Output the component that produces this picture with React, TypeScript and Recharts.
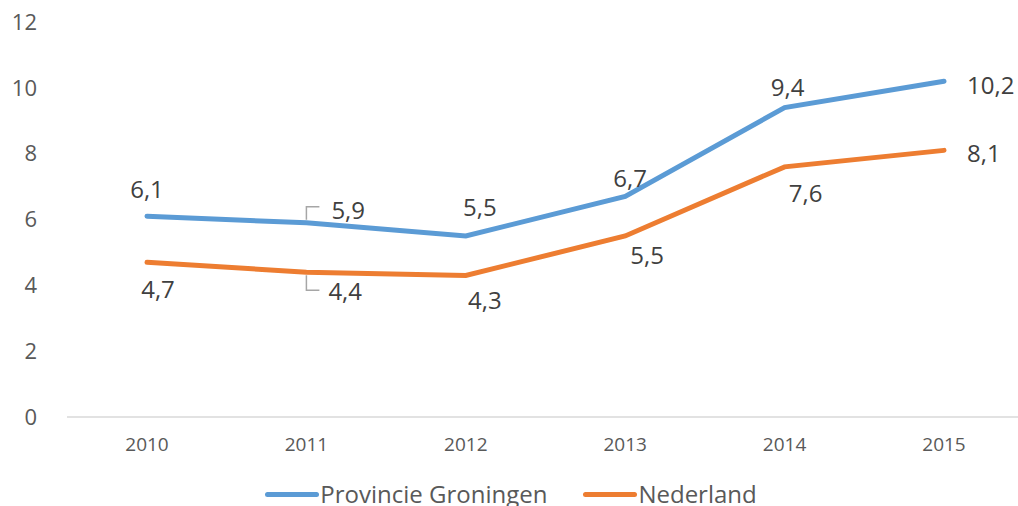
import { LineChart, Line, XAxis, YAxis, Legend, LabelList } from "recharts";

const years = ["2010", "2011", "2012", "2013", "2014", "2015"];
const groningen = [6.1, 5.9, 5.5, 6.7, 9.4, 10.2];
const nederland = [4.7, 4.4, 4.3, 5.5, 7.6, 8.1];
const yTicks = [0, 2, 4, 6, 8, 10, 12];

const BLUE = "#5B9BD5";
const ORANGE = "#ED7D31";
const FONT = "'Open Sans', sans-serif";

// label placement per point: [dx, dy, anchor, leader]
type Placement = [number, number, "start" | "middle" | "end", number];
const groningenLabelPos: Placement[] = [
  [0, -28, "middle", 0],
  [25, -13, "start", -1],
  [14, -29, "middle", 0],
  [5, -19, "middle", 0],
  [3, -21, "middle", 0],
  [23, 3, "start", 0],
];
const nederlandLabelPos: Placement[] = [
  [11, 26, "middle", 0],
  [22, 18, "start", 1],
  [19, 24, "middle", 0],
  [22, 19, "middle", 0],
  [21, 26, "middle", 0],
  [23, 2, "start", 0],
];

const data = years.map((year, i) => ({
  year,
  groningen: groningen[i],
  nederland: nederland[i],
}));

const fmt = (v: number) => v.toFixed(1).replace(".", ",");

function makeLabel(placement: Placement[]) {
  return (props: any) => {
    const { x, y, value, index } = props;
    const [dx, dy, anchor, leader] = placement[index] ?? [0, -20, "middle", 0];
    const cx = Number(x);
    const cy = Number(y);
    return (
      <g>
        {leader !== 0 && (
          <path
            d={
              leader < 0
                ? `M${cx},${cy - 3} L${cx},${cy - 16} L${cx + 13},${cy - 16}`
                : `M${cx},${cy + 3} L${cx},${cy + 18} L${cx + 13},${cy + 18}`
            }
            fill="none"
            stroke="#A6A6A6"
            strokeWidth={1.5}
          />
        )}
        <text
          x={cx + dx}
          y={cy + dy}
          textAnchor={anchor}
          dominantBaseline="central"
          fontSize={24}
          fontFamily={FONT}
          fill="#404040"
        >
          {fmt(Number(value))}
        </text>
      </g>
    );
  };
}

function LegendContent() {
  const items = [
    { name: "Provincie Groningen", color: BLUE },
    { name: "Nederland", color: ORANGE },
  ];
  return (
    <div style={{ display: "flex", justifyContent: "center", gap: 36, fontFamily: FONT, fontSize: 24, color: "#595959", paddingTop: 11, paddingLeft: 4, lineHeight: "32px" }}>
      {items.map((it) => (
        <div key={it.name} style={{ display: "flex", alignItems: "center", whiteSpace: "nowrap" }}>
          <span style={{ display: "inline-block", width: 54, height: 5, borderRadius: 3, background: it.color, marginRight: 1 }} />
          {it.name}
        </div>
      ))}
    </div>
  );
}

export default function App() {
  return (
    <div style={{ position: "absolute", left: 0, top: 0, width: 1018, height: 506, overflow: "hidden", background: "#fff" }}>
      <LineChart width={1018} height={506} data={data} margin={{ top: 22, right: 0, bottom: 0, left: 0 }}>
        <XAxis
          dataKey="year"
          padding={{ left: 80, right: 74 }}
          axisLine={{ stroke: "#D9D9D9", strokeWidth: 1.5 }}
          tickLine={false}
          tickSize={0}
          tickMargin={21}
          height={50}
          tick={{ fontSize: 19, fill: "#595959", fontFamily: FONT }}
        />
        <YAxis
          domain={[0, 12]}
          ticks={yTicks}
          width={67}
          axisLine={false}
          tickLine={false}
          tickSize={0}
          tickMargin={30}
          tick={{ fontSize: 22, fill: "#595959", fontFamily: FONT }}
        />
        <Legend verticalAlign="bottom" height={39} content={<LegendContent />} />
        <Line
          dataKey="groningen"
          name="Provincie Groningen"
          stroke={BLUE}
          strokeWidth={5}
          dot={false}
          strokeLinecap="round"
          isAnimationActive={false}
        >
          <LabelList dataKey="groningen" content={makeLabel(groningenLabelPos)} />
        </Line>
        <Line
          dataKey="nederland"
          name="Nederland"
          stroke={ORANGE}
          strokeWidth={5}
          dot={false}
          strokeLinecap="round"
          isAnimationActive={false}
        >
          <LabelList dataKey="nederland" content={makeLabel(nederlandLabelPos)} />
        </Line>
      </LineChart>
    </div>
  );
}
